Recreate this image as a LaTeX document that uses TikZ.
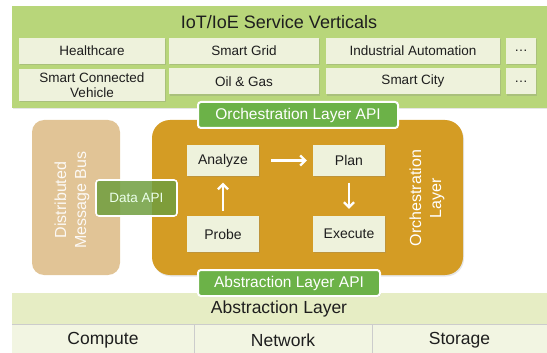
\documentclass[tikz,border=0pt]{standalone}
\usepackage{fontspec}
\setmainfont{Liberation Sans}
\usetikzlibrary{arrows.meta,shadows}
\definecolor{topgreen}{RGB}{184,214,122}
\definecolor{cream}{RGB}{238,242,220}
\definecolor{orch}{RGB}{212,156,36}
\definecolor{tan}{RGB}{225,196,150}
\definecolor{apigreen}{RGB}{108,178,72}
\definecolor{datagreen}{RGB}{112,158,62}
\definecolor{band}{RGB}{230,237,196}
\definecolor{cell}{RGB}{242,245,226}
\definecolor{textdark}{RGB}{30,30,30}
\tikzset{
  cbox/.style={fill=cream, inner sep=0pt, align=center, text=textdark,
    font=\fontsize{13.5}{15}\selectfont,
    drop shadow={shadow xshift=1pt, shadow yshift=-1.2pt, opacity=0.25}},
  mbox/.style={fill=cream, inner sep=0pt, text=textdark, minimum width=72pt,
    font=\fontsize{14}{16}\selectfont,
    drop shadow={shadow xshift=1pt, shadow yshift=-1.2pt, opacity=0.25}},
  apibox/.style={fill=apigreen, draw=white, line width=2pt, rounded corners=3pt,
    inner sep=0pt, text=white, font=\fontsize{15.5}{17}\selectfont,
    drop shadow={shadow xshift=0.8pt, shadow yshift=-1pt, opacity=0.3}},
  vtext/.style={text=white, align=center, rotate=90, font=\fontsize{16}{20}\selectfont},
  flow/.style={draw=white, line width=2.4pt, -{Straight Barb[length=5pt,width=10pt,line width=2.2pt]}},
  celltext/.style={text=textdark, font=\fontsize{17.5}{20}\selectfont},
}
\begin{document}
\begin{tikzpicture}[x=1pt,y=-1pt]
\useasboundingbox (0,0) rectangle (547,353);
% top green panel
\fill[topgreen, drop shadow={shadow xshift=1pt, shadow yshift=-1.5pt, opacity=0.2}] (12,6) rectangle (547,108);
\node[text=textdark, font=\fontsize{18}{20}\selectfont] (title) at (279,22.5) {IoT/IoE Service Verticals};
\node[cbox, minimum width=146pt, minimum height=26pt] (health) at (92,51) {Healthcare};
\node[cbox, minimum width=150pt, minimum height=26pt] (sgrid) at (244,51) {Smart Grid};
\node[cbox, minimum width=174pt, minimum height=26pt] (indaut) at (413,51) {Industrial Automation};
\node[cbox, minimum width=30pt, minimum height=26pt] (dotsa) at (521,51) {\dots};
\node[cbox, minimum width=146pt, minimum height=32pt, font=\fontsize{13.5}{15.5}\selectfont] (scv) at (92,85) {Smart Connected\\Vehicle};
\node[cbox, minimum width=150pt, minimum height=26pt] (oil) at (244,81.5) {Oil \& Gas};
\node[cbox, minimum width=174pt, minimum height=26pt] (scity) at (413,81.5) {Smart City};
\node[cbox, minimum width=30pt, minimum height=26pt] (dotsb) at (521,81.5) {\dots};
% message bus
\fill[tan, rounded corners=12pt] (32,120) rectangle (120,275);
\node[vtext, text=white!90!tan] (bus) at (72,200) {Distributed\\Message Bus};
% orchestration layer
\fill[orch, rounded corners=18pt, drop shadow={shadow xshift=1pt, shadow yshift=-1.5pt, opacity=0.2}] (152,120) rectangle (463,275);
\node[vtext] (orchl) at (427,198) {Orchestration\\Layer};
\node[mbox, minimum height=30pt] (analyze) at (223,160.5) {Analyze};
\node[mbox, minimum height=30pt] (plan) at (349,160.5) {Plan};
\node[mbox, minimum height=36pt] (probe) at (223,234) {Probe};
\node[mbox, minimum height=36pt] (execute) at (349,234) {Execute};
\draw[flow, shorten <=12pt, shorten >=6pt] (analyze.east) -- (plan.west);
\draw[flow, shorten <=5pt, shorten >=7pt] (probe.north) -- (analyze.south);
\draw[flow, shorten <=7pt, shorten >=7pt] (plan.south) -- (execute.north);
% data api
\node[fill=datagreen, fill opacity=0.85, text opacity=1, draw=white, line width=1.6pt, rounded corners=3pt,
  minimum width=81pt, minimum height=36pt, inner sep=0pt, text=white!92!green,
  font=\fontsize{13.5}{15}\selectfont] (dataapi) at (136.5,198) {Data API};
% orchestration api
\node[apibox, minimum width=200pt, minimum height=26pt] (orchapi) at (298,115) {Orchestration Layer API};
% abstraction layer
\fill[band] (12,293) rectangle (547,324);
\node[celltext] (abs) at (279,309) {Abstraction Layer};
\fill[cell] (12,324) rectangle (547,353);
\draw[gray!40, line width=0.8pt] (12,324) -- (547,324);
\draw[gray!40, line width=0.8pt] (194,324) -- (194,353);
\draw[gray!40, line width=0.8pt] (372,324) -- (372,353);
\node[celltext] (compute) at (103,340) {Compute};
\node[celltext] (network) at (283,340) {Network};
\node[celltext] (storage) at (459.5,340) {Storage};
\node[apibox, minimum width=182pt, minimum height=26pt] (absapi) at (289,283) {Abstraction Layer API};
\end{tikzpicture}
\end{document}
